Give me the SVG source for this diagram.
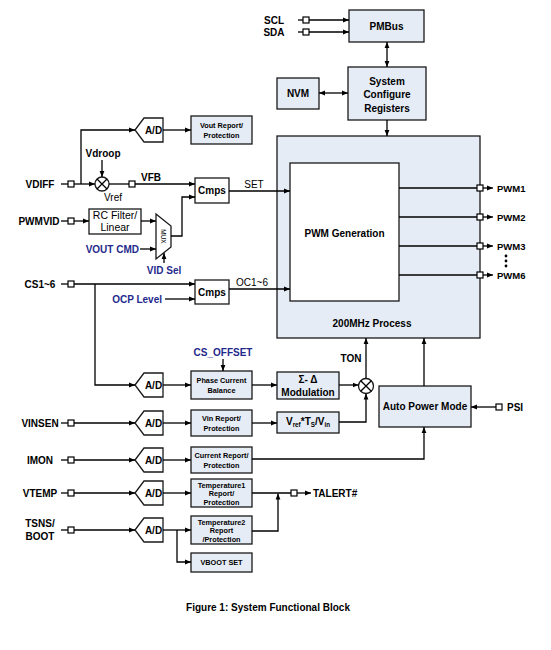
<svg xmlns="http://www.w3.org/2000/svg" width="551" height="650" viewBox="0 0 551 650">
<defs>
<marker id="ah" markerWidth="6" markerHeight="6" refX="6" refY="3" orient="auto-start-reverse" markerUnits="userSpaceOnUse"><path d="M0,0.6 L6,3 L0,5.4 Z" fill="#000"/></marker>
</defs>
<style>
text{font-family:"Liberation Sans",Arial,sans-serif;fill:#000}
.b{font-weight:bold}
.lbl{font-weight:bold;font-size:10px;text-anchor:middle}
.sm{font-weight:bold;font-size:7.3px;text-anchor:middle}
.md{font-weight:bold;font-size:10px;text-anchor:middle}
.nv{fill:#1F2A8C;font-weight:bold;font-size:10px}
.box{fill:#E6ECF6;stroke:#1a1a1a;stroke-width:1.3}
.wb{fill:#fff;stroke:#1a1a1a;stroke-width:1.3}
.port{fill:#fff;stroke:#000;stroke-width:1.2}
.ln{fill:none;stroke:#000;stroke-width:1.3}
.ar{fill:none;stroke:#000;stroke-width:1.3;marker-end:url(#ah)}
.da{fill:none;stroke:#000;stroke-width:1.3;marker-end:url(#ah);marker-start:url(#ah)}
</style>
<rect width="551" height="650" fill="#fff"/>

<g id="pmbus"><rect class="box" x="349" y="10" width="75" height="32"/><text class="md" x="386.5" y="29.5" font-size="10.5">PMBus</text></g>
<g id="scr"><rect class="box" x="348" y="67" width="78" height="53"/>
<text class="md" x="387" y="85" font-size="12">System</text><text class="md" x="387" y="98" font-size="12">Configure</text><text class="md" x="387" y="111.5" font-size="12">Registers</text></g>
<g id="nvm"><rect class="box" x="277" y="78" width="42" height="31"/><text class="md" x="298" y="97">NVM</text></g>

<g id="process"><rect class="box" x="277" y="136" width="203" height="202"/>
<text class="md" x="372" y="327" font-size="10.8">200MHz Process</text></g>
<g id="pwmgen"><rect class="wb" x="290" y="163" width="109" height="138"/>
<text class="md" x="344.5" y="236.5" font-size="11">PWM Generation</text></g>

<g id="ad1"><path class="wb" d="M135,130 L144,118 H163 V142 H144 Z"/><text class="md" x="153.5" y="133.5" font-size="9.5">A/D</text></g>
<g id="voutrep"><rect class="box" x="191" y="116" width="61" height="28"/><text class="sm" x="221.5" y="128">Vout Report/</text><text class="sm" x="221.5" y="138">Protection</text></g>

<g id="sum1"><circle class="wb" cx="102" cy="184" r="7"/><path class="ln" d="M97,179 L107,189 M107,179 L97,189" stroke-width="0.9"/></g>

<g id="cmps1"><rect class="wb" x="195" y="178" width="34" height="25"/><text class="md" x="212" y="194">Cmps</text></g>
<g id="rcfilter"><rect class="wb" x="89" y="209" width="52" height="25"/>
<text x="115" y="219" font-size="10.5" text-anchor="middle">RC Filter/</text><text x="115" y="230.5" font-size="10.5" text-anchor="middle">Linear</text></g>
<g id="mux"><path class="wb" d="M156,214 L171,226 V247 L156,259 Z"/>
<text x="163" y="236.5" font-size="6.5" text-anchor="middle" transform="rotate(90 163 236.5)" dy="2">MUX</text></g>

<g id="cmps2"><rect class="wb" x="195" y="280" width="34" height="24"/><text class="md" x="212" y="295.5">Cmps</text></g>

<g id="ad2"><path class="wb" d="M135,385 L144,373 H163 V397 H144 Z"/><text class="md" x="153.5" y="388.5" font-size="9.5">A/D</text></g>
<g id="pcb"><rect class="box" x="191" y="371" width="61" height="28"/><text class="sm" x="221.5" y="383">Phase Current</text><text class="sm" x="221.5" y="393">Balance</text></g>
<g id="sigmadelta"><rect class="box" x="277" y="372" width="62" height="27"/><text class="md" x="308" y="383" font-size="9.5">Σ- Δ</text><text class="md" x="308" y="395.5">Modulation</text></g>
<g id="sum2"><circle class="wb" cx="366" cy="386" r="7.5"/><path class="ln" d="M360.7,380.7 L371.3,391.3 M371.3,380.7 L360.7,391.3" stroke-width="0.9"/></g>

<g id="ad3"><path class="wb" d="M135,423 L144,411 H163 V435 H144 Z"/><text class="md" x="153.5" y="426.5" font-size="9.5">A/D</text></g>
<g id="vinrep"><rect class="box" x="191" y="410" width="61" height="26"/><text class="sm" x="221.5" y="421">Vin Report/</text><text class="sm" x="221.5" y="431">Protection</text></g>
<g id="vrefts"><rect class="box" x="277" y="412" width="62" height="21"/>
<text class="md" x="308" y="425" font-size="9.5">V<tspan font-size="6.3" dy="2">ref</tspan><tspan dy="-2">*T</tspan><tspan font-size="6.3" dy="2">S</tspan><tspan dy="-2">/V</tspan><tspan font-size="6.3" dy="2">in</tspan></text></g>

<g id="apm"><rect class="box" x="379" y="386" width="92" height="41"/><text class="md" x="425" y="410" font-size="10">Auto Power Mode</text></g>

<g id="ad4"><path class="wb" d="M135,460 L144,448 H163 V472 H144 Z"/><text class="md" x="153.5" y="463.5" font-size="9.5">A/D</text></g>
<g id="currep"><rect class="box" x="191" y="447" width="61" height="26"/><text class="sm" x="221.5" y="458">Current Report/</text><text class="sm" x="221.5" y="468">Protection</text></g>

<g id="ad5"><path class="wb" d="M135,493 L144,481 H163 V505 H144 Z"/><text class="md" x="153.5" y="496.5" font-size="9.5">A/D</text></g>
<g id="temp1"><rect class="box" x="191" y="479" width="61" height="28"/><text class="sm" x="221.5" y="487.5">Temperature1</text><text class="sm" x="221.5" y="496">Report/</text><text class="sm" x="221.5" y="504.5">Protection</text></g>

<g id="ad6"><path class="wb" d="M135,530 L144,518 H163 V542 H144 Z"/><text class="md" x="153.5" y="533.5" font-size="9.5">A/D</text></g>
<g id="temp2"><rect class="box" x="191" y="516" width="61" height="28"/><text class="sm" x="221.5" y="524.5">Temperature2</text><text class="sm" x="221.5" y="533">Report</text><text class="sm" x="221.5" y="541.5">/Protection</text></g>
<g id="vboot"><rect class="box" x="191" y="553" width="61" height="19"/><text class="sm" x="221.5" y="565">VBOOT SET</text></g>

<g id="connectors">
<path class="ln" d="M298,20 H303"/><path class="ar" d="M309,20 H349"/>
<path class="ln" d="M298,32 H303"/><path class="ar" d="M309,32 H349"/>
<path class="da" d="M387,42 V67"/>
<path class="da" d="M319,93 H348"/>
<path class="ar" d="M387,120 V136"/>
<path class="ln" d="M399,188 H477 M399,217 H477 M399,246 H477 M399,275 H477"/>
<path class="ar" d="M483,188 H493"/><path class="ar" d="M483,217 H493"/><path class="ar" d="M483,246 H493"/><path class="ar" d="M483,275 H493"/>
<path class="ln" d="M61,184 H68"/>
<path class="ar" d="M74,184 H95"/>
<path class="ar" d="M81,184 V130 H135"/>
<path class="ar" d="M163,130 H191"/>
<path class="ar" d="M102,160 V177"/>
<path class="ln" d="M109,184 H129"/>
<path class="ar" d="M135,184 H195"/>
<path class="ar" d="M229,191 H290"/>
<path class="ln" d="M61,221 H68"/>
<path class="ar" d="M74,221 H89"/>
<path class="ar" d="M141,221 H156"/>
<path class="ar" d="M140,249 H156"/>
<path class="ar" d="M164,263 V253"/>
<path class="ar" d="M171,236 H182 V197 H195"/>
<path class="ln" d="M61,284 H68"/>
<path class="ar" d="M74,284 H195"/>
<path class="ar" d="M165,299 H195"/>
<path class="ar" d="M229,289 H290"/>
<path class="ar" d="M95,284 V385 H135"/>
<path class="ar" d="M163,385 H191"/>
<path class="ar" d="M223,359 V371"/>
<path class="ar" d="M252,385 H277"/>
<path class="ar" d="M339,385 H358.5"/>
<path class="ar" d="M366,378.5 V338"/>
<path class="ln" d="M61,423 H68"/>
<path class="ar" d="M74,423 H135"/>
<path class="ar" d="M163,423 H191"/>
<path class="ar" d="M252,423 H277"/>
<path class="ar" d="M339,422 H366 V393.5"/>
<path class="ar" d="M424,386 V338"/>
<path class="ar" d="M496,407 H471"/>
<path class="ln" d="M61,460 H68"/>
<path class="ar" d="M74,460 H135"/>
<path class="ar" d="M163,460 H191"/>
<path class="ar" d="M252,459 H424 V427"/>
<path class="ln" d="M61,493 H68"/>
<path class="ar" d="M74,493 H135"/>
<path class="ar" d="M163,493 H191"/>
<path class="ln" d="M252,493 H291"/>
<path class="ar" d="M297,493 H311"/>
<path class="ar" d="M252,531 H278 V493.5"/>
<path class="ln" d="M61,530 H68"/>
<path class="ar" d="M74,530 H135"/>
<path class="ar" d="M163,530 H191"/>
<path class="ar" d="M177,530 V562 H191"/>
</g>

<g id="ports">
<rect class="port" x="303" y="17" width="6" height="6"/>
<rect class="port" x="303" y="29" width="6" height="6"/>
<rect class="port" x="68" y="181" width="6" height="6"/>
<rect class="port" x="129" y="181" width="6" height="6"/>
<rect class="port" x="68" y="218" width="6" height="6"/>
<rect class="port" x="68" y="281" width="6" height="6"/>
<rect class="port" x="68" y="420" width="6" height="6"/>
<rect class="port" x="68" y="457" width="6" height="6"/>
<rect class="port" x="68" y="490" width="6" height="6"/>
<rect class="port" x="68" y="527" width="6" height="6"/>
<rect class="port" x="291" y="490" width="6" height="6"/>
<rect class="port" x="496" y="404" width="6" height="6"/>
<rect class="port" x="477" y="185" width="6" height="6"/>
<rect class="port" x="477" y="214" width="6" height="6"/>
<rect class="port" x="477" y="243" width="6" height="6"/>
<rect class="port" x="477" y="272" width="6" height="6"/>
</g>

<g id="labels">
<text class="b" x="274" y="23.5" font-size="10" text-anchor="middle">SCL</text>
<text class="b" x="274" y="35.5" font-size="10" text-anchor="middle">SDA</text>
<text class="lbl" x="40" y="187.5">VDIFF</text>
<text class="lbl" x="39" y="224.5">PWMVID</text>
<text class="lbl" x="40" y="287.5">CS1~6</text>
<text class="lbl" x="40" y="426.5">VINSEN</text>
<text class="lbl" x="40" y="463.5">IMON</text>
<text class="lbl" x="40" y="496.5">VTEMP</text>
<text class="lbl" x="40" y="527">TSNS/</text>
<text class="lbl" x="40" y="540">BOOT</text>
<text class="b" x="497" y="191.5" font-size="9.5">PWM1</text>
<text class="b" x="497" y="220.5" font-size="9.5">PWM2</text>
<text class="b" x="497" y="249.5" font-size="9.5">PWM3</text>
<text class="b" x="497" y="278.5" font-size="9.5">PWM6</text>
<circle cx="506" cy="256" r="1.4"/><circle cx="506" cy="261" r="1.4"/><circle cx="506" cy="266" r="1.4"/>
<text class="b" x="507" y="410.5" font-size="10">PSI</text>
<text class="b" x="313" y="496.5" font-size="10">TALERT#</text>
<text class="md" x="103" y="156.5">Vdroop</text>
<text x="113" y="201" font-size="10" text-anchor="middle">Vref</text>
<text class="md" x="151" y="180.5">VFB</text>
<text x="254" y="188" font-size="10" text-anchor="middle">SET</text>
<text x="252" y="286" font-size="10" text-anchor="middle">OC1~6</text>
<text class="nv" x="139" y="252.5" text-anchor="end">VOUT CMD</text>
<text class="nv" x="164" y="273.5" text-anchor="middle">VID Sel</text>
<text class="nv" x="162" y="302.5" text-anchor="end">OCP Level</text>
<text class="nv" x="223" y="356" text-anchor="middle">CS_OFFSET</text>
<text class="md" x="351" y="362">TON</text>
</g>

<text class="md" x="268" y="610.5" font-size="13.5">Figure 1: System Functional Block</text>
</svg>
